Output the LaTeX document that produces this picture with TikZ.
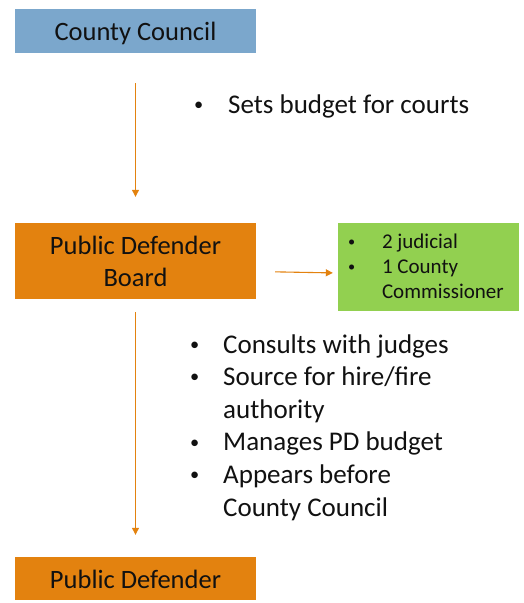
\documentclass[tikz,border=0pt]{standalone}
\usepackage{graphicx}
\usepackage{fontspec}
\setmainfont{Carlito}
\usetikzlibrary{arrows.meta}
\definecolor{cblue}{HTML}{7BA7CC}
\definecolor{corange}{HTML}{E3820F}
\definecolor{cgreen}{HTML}{92D050}
\definecolor{ctext}{HTML}{111111}
\newlength\bulw
\newcommand\sbul{\raisebox{0.1em}{\scalebox{0.68}{\textbullet}}}
\newcommand\bitem[1]{\hbox{\makebox[\bulw][l]{\sbul}#1}}
\newcommand\bcont[1]{\hbox{\hspace*{\bulw}#1}}
\tikzset{
  box/.style={rectangle, draw=none, minimum width=241pt, inner sep=0pt, text=ctext,
    font=\fontsize{26.5}{32}\selectfont, align=center},
  arr/.style={draw=corange, line width=1.1pt, -{Triangle[width=7pt,length=7pt]}},
  listtxt/.style={anchor=base west, inner sep=0pt, text=ctext, font=\fontsize{27}{32.6}\selectfont}
}
\begin{document}
\begin{tikzpicture}[x=1pt,y=-1pt]
\useasboundingbox (0,0) rectangle (524,603);
\node[box, fill=cblue, minimum height=44pt, text height=19pt, text depth=0pt] (cc) at (135.5,31) {County Council};
\node[box, fill=corange, minimum height=76pt] (pdb) at (135.5,261) {Public Defender\\Board};
\node[box, fill=corange, minimum height=43pt, text height=19pt, text depth=0pt] (pd) at (135.5,578.5) {Public Defender};
\node[rectangle, fill=cgreen, minimum width=181pt, minimum height=88pt, inner sep=0pt, text=ctext,
  font=\fontsize{21}{25}\selectfont] (grn) at (428.5,267) {};
\node[anchor=west, inner sep=0pt, text=ctext, font=\fontsize{21}{25}\selectfont] (gl) at ([xshift=10pt,yshift=0.5pt]grn.west)
  {\setlength\bulw{34pt}\vbox{\bitem{2 judicial}\bitem{1 County}\bcont{Commissioner}}};
\node[listtxt] (l1) at (194,113) {\setlength\bulw{34pt}\vtop{\bitem{Sets budget for courts}}};
\node[listtxt] (l2) at (190,353) {\setlength\bulw{33pt}\vtop{\bitem{Consults with judges}\bitem{Source for hire/fire}\bcont{authority}\bitem{Manages PD budget}\bitem{Appears before}\bcont{County Council}}};
\draw[arr, shorten <=30pt, shorten >=26pt] (cc) -- (pdb);
\draw[arr, shorten <=13pt, shorten >=22pt] (pdb) -- (pd);
\draw[arr, shorten <=19pt, shorten >=5pt] ([yshift=-10.5pt]pdb.east) -- ([yshift=-6pt]grn.west);
\end{tikzpicture}
\end{document}
